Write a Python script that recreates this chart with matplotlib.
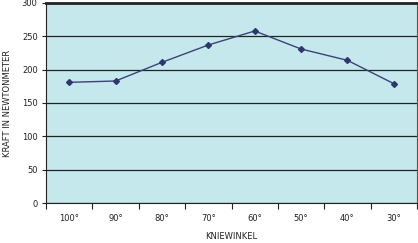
import matplotlib
matplotlib.use('Agg')
from matplotlib import pyplot as plt

winkel = ['100°', '90°', '80°', '70°', '60°', '50°', '40°', '30°']
kraft = [181, 183, 211, 237, 258, 231, 214, 179]

W, H = 418, 243
fig = plt.figure(figsize=(W / 100, H / 100), dpi=100)
ax = fig.add_axes([46 / W, 40 / H, 371 / W, 200 / H])
ax.set_facecolor('#c5e8ec')

x = list(range(len(winkel)))
ax.plot(x, kraft, color='#3b4279', lw=1.0, marker='D', ms=3, mfc='#2e3570', mec='#2e3570')

ax.set_xlim(-0.5, len(winkel) - 0.5)
ax.set_ylim(0, 300)
ax.set_yticks(range(0, 301, 50))
ax.set_xticks(x)
ax.set_xticklabels(winkel, fontsize=6, color='#222222')
ax.set_xticks([i - 0.5 for i in range(len(winkel) + 1)], minor=True)
ax.tick_params(axis='x', which='major', length=0, pad=8)
ax.tick_params(axis='x', which='minor', length=4, width=0.8, color='#222222')
ax.tick_params(axis='y', length=3, width=0.8, labelsize=6, colors='#222222', pad=3)

ax.yaxis.grid(True, color='#222222', lw=0.9)
ax.set_axisbelow(True)
for s in ['left', 'bottom']:
    ax.spines[s].set_color('#222222')
    ax.spines[s].set_linewidth(0.8)
ax.spines['top'].set_color('#222222')
ax.spines['top'].set_linewidth(2.0)
ax.spines['right'].set_color('#555555')
ax.spines['right'].set_linewidth(0.8)

fig.text(231 / W, 1 - 236 / H, 'KNIEWINKEL', fontsize=6, color='#222222',
         ha='center', va='center')
fig.text(8 / W, 1 - 103 / H, 'KRAFT IN NEWTONMETER', fontsize=6, color='#222222',
         ha='center', va='center', rotation=90)

fig.savefig('out.png', dpi=100)
